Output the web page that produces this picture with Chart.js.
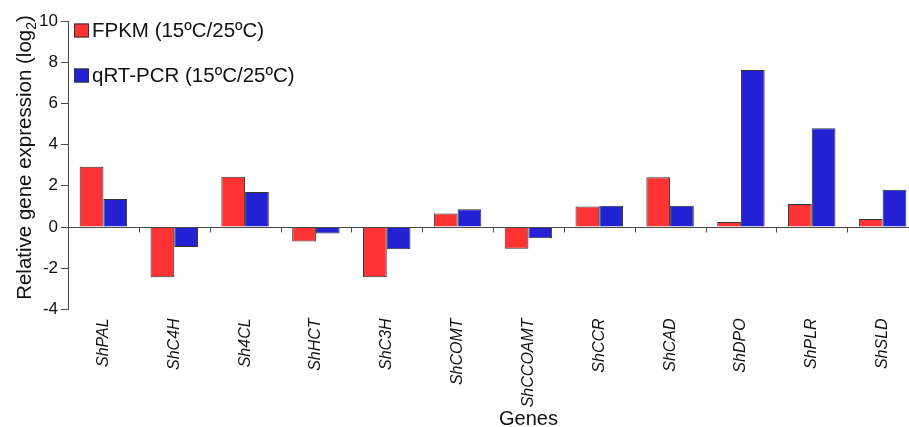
<!DOCTYPE html>
<html>
<head>
<meta charset="utf-8">
<script src="https://cdn.jsdelivr.net/npm/chart.js@4"></script>
<style>
  html, body { margin: 0; padding: 0; background: #fff; overflow: hidden; }
  #wrap { position: relative; width: 920px; height: 427px; }
</style>
</head>
<body>
<div id="wrap"><canvas id="c"></canvas></div>
<script>
// Gene names along the x axis
const genes = ['ShPAL', 'ShC4H', 'Sh4CL', 'ShHCT', 'ShC3H', 'ShCOMT', 'ShCCOAMT',
               'ShCCR', 'ShCAD', 'ShDPO', 'ShPLR', 'ShSLD'];
// log2 fold change, 15ºC vs 25ºC
const fpkm  = [2.93, -2.44, 2.44, -0.70, -2.44, 0.66, -1.05, 0.99, 2.41, 0.24, 1.12, 0.39];
const qpcr  = [1.36, -0.97, 1.70, -0.32, -1.08, 0.86, -0.55, 1.03, 1.03, 7.62, 4.79, 1.81];
const seriesNames = ['FPKM (15ºC/25ºC)', 'qRT-PCR (15ºC/25ºC)'];
const yTicks = [-4, -2, 0, 2, 4, 6, 8, 10];

const FONT = '"Liberation Sans", Arial, sans-serif';
const RED = '#ff3333';
const BLUE = '#2222d4';
const EDGE = '#333333';
const AXIS = '#4a4a4a';
const INK = '#111111';

// Baseline at zero with small ticks between gene groups, plus both axis titles
const axisExtras = {
  id: 'axisExtras',
  afterDatasetsDraw(chart) {
    const { ctx, chartArea, scales: { x, y } } = chart;
    const y0 = Math.round(y.getPixelForValue(0)) + 0.5;
    ctx.save();
    ctx.strokeStyle = AXIS;
    ctx.lineWidth = 1;
    ctx.beginPath();
    ctx.moveTo(chartArea.left, y0);
    ctx.lineTo(chartArea.right, y0);
    const half = (x.getPixelForValue(1) - x.getPixelForValue(0)) / 2;
    for (let i = 0; i < genes.length; i++) {
      const bx = Math.round(x.getPixelForValue(i) + half) + 0.5;
      ctx.moveTo(bx, y0);
      ctx.lineTo(bx, y0 + 5);
    }
    ctx.stroke();

    // x-axis title
    ctx.fillStyle = INK;
    ctx.font = '20px ' + FONT;
    ctx.textAlign = 'center';
    ctx.textBaseline = 'alphabetic';
    ctx.fillText('Genes', x.getPixelForValue(6), 425);

    // y-axis title with a subscript 2
    const main = '20.5px ' + FONT, sub = '14px ' + FONT;
    const parts = [['Relative gene expression (log', main, 0], ['2', sub, 5], [')', main, 0]];
    let total = 0;
    parts.forEach(p => { ctx.font = p[1]; total += ctx.measureText(p[0]).width; });
    ctx.translate(31, 157.5);
    ctx.rotate(-Math.PI / 2);
    ctx.textAlign = 'left';
    let tx = -total / 2;
    parts.forEach(p => {
      ctx.font = p[1];
      ctx.fillText(p[0], tx, p[2]);
      tx += ctx.measureText(p[0]).width;
    });
    ctx.restore();
  }
};

// Legend placed in the upper-left corner of the plot area
const cornerLegend = {
  id: 'cornerLegend',
  afterDraw(chart) {
    const { ctx, chartArea } = chart;
    const rows = [30.5, 75.5];
    ctx.save();
    ctx.font = '20.5px ' + FONT;
    ctx.textBaseline = 'middle';
    ctx.textAlign = 'left';
    chart.data.datasets.forEach((ds, i) => {
      const bx = chartArea.left + 6;
      const cy = rows[i];
      ctx.fillStyle = ds.backgroundColor;
      ctx.fillRect(bx, cy - 7, 15, 14);
      ctx.strokeStyle = EDGE;
      ctx.lineWidth = 1;
      ctx.strokeRect(bx + 0.5, cy - 6.5, 14, 13);
      ctx.fillStyle = INK;
      ctx.fillText(ds.label, bx + 18, cy + 1);
    });
    ctx.restore();
  }
};

new Chart(document.getElementById('c'), {
  type: 'bar',
  data: {
    labels: genes,
    datasets: [
      { label: seriesNames[0], data: fpkm, backgroundColor: RED, borderColor: EDGE, borderWidth: 1 },
      { label: seriesNames[1], data: qpcr, backgroundColor: BLUE, borderColor: EDGE, borderWidth: 1 }
    ]
  },
  options: {
    responsive: true,
    maintainAspectRatio: false,
    animation: false,
    categoryPercentage: 0.67,
    barPercentage: 1.0,
    layout: { padding: { top: 21, right: 2, left: 0, bottom: 0 } },
    plugins: { legend: { display: false }, tooltip: { enabled: false } },
    scales: {
      x: {
        offset: true,
        grid: { display: false, drawTicks: false },
        border: { display: false },
        ticks: {
          minRotation: 90, maxRotation: 90, padding: 9, autoSkip: false,
          color: INK, font: { family: FONT, size: 16, style: 'italic' }
        },
        afterFit(scale) { scale.height = 117.6; }
      },
      y: {
        min: -4, max: 10,
        afterBuildTicks(scale) { scale.ticks = yTicks.map(v => ({ value: v })); },
        grid: { drawOnChartArea: false, drawTicks: true, tickLength: 7, color: AXIS },
        border: { display: true, color: AXIS },
        ticks: { padding: 3, color: INK, font: { family: FONT, size: 17 } },
        title: { display: false },
        afterFit(scale) { scale.width = 68; }
      }
    }
  },
  plugins: [axisExtras, cornerLegend]
});
</script>
</body>
</html>
